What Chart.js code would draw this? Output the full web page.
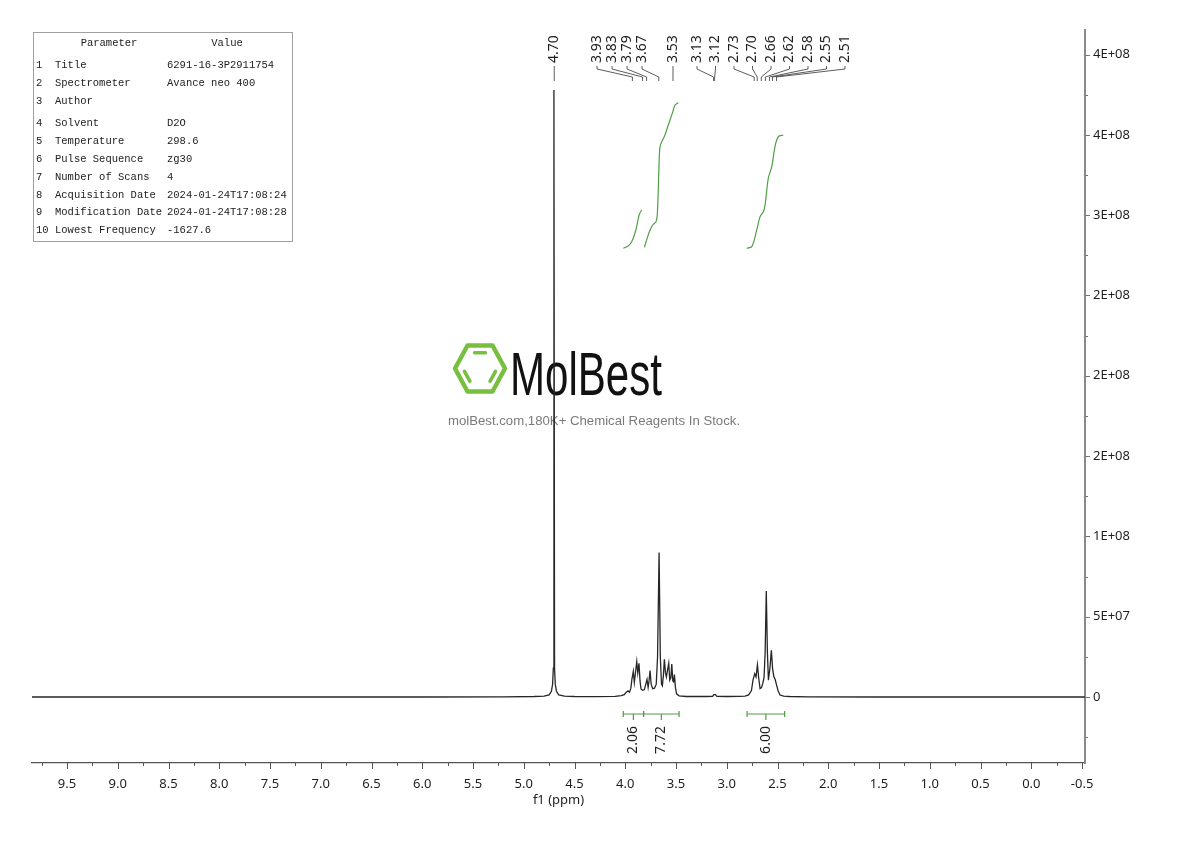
<!DOCTYPE html>
<html>
<head>
<meta charset="utf-8">
<title>1H NMR 6291-16-3</title>
<script src="https://cdn.jsdelivr.net/npm/chart.js@4.4.1/dist/chart.umd.min.js"></script>
<style>
  html, body { margin: 0; padding: 0; background: #fff; }
  #wrap { width: 1190px; height: 841px; }
</style>
</head>
<body>
<div id="wrap"><canvas id="chart" width="1190" height="841"></canvas></div>
<script>
'use strict'

/* global Chart */

// spectrum trace (ppm / intensity)
const spectrumPpm = [
  9.845, 6.0, 5.2, 4.9, 4.8, 4.75, 4.728, 4.716, 4.709, 4.703, 4.697, 4.69, 4.678, 4.656, 4.6, 4.5, 4.3,
  4.1, 4.04, 4.01, 3.993, 3.973, 3.958, 3.945, 3.935, 3.921, 3.911, 3.898, 3.887, 3.877, 3.865, 3.855,
  3.845, 3.83, 3.812, 3.798, 3.786, 3.775, 3.766, 3.756, 3.745, 3.73, 3.712, 3.695, 3.682, 3.667, 3.655,
  3.643, 3.635, 3.625, 3.615, 3.604, 3.595, 3.583, 3.572, 3.562, 3.551, 3.542, 3.532, 3.524, 3.516,
  3.506, 3.495, 3.47, 3.4, 3.2, 3.14, 3.128, 3.112, 3.098, 3.0, 2.88, 2.82, 2.785, 2.757, 2.742, 2.725,
  2.712, 2.698, 2.686, 2.672, 2.658, 2.646, 2.633, 2.622, 2.611, 2.6, 2.59, 2.575, 2.561, 2.548, 2.536,
  2.524, 2.51, 2.493, 2.475, 2.44, 2.38, 2.2, 1.5, -0.53
]
const spectrumIntensity = [
  0, 0, 0.1e6, 0.3e6, 0.6e6, 1.3e6, 3.5e6, 8e6, 1.8e7, 3.78e8, 1.8e7, 8e6, 3.5e6, 1.3e6, 0.6e6, 0.3e6, 0.2e6,
  0.4e6, 0.8e6, 1.5e6, 2.8e6, 3.8e6, 3.0e6, 5.5e6, 1.1e7, 1.6e7, 9e6, 1.6e7, 2.2e7, 1.5e7, 2.1e7, 1.0e7,
  5e6, 4.2e6, 4.6e6, 8e6, 1.1e7, 6e6, 1.0e7, 1.65e7, 8e6, 5.2e6, 5.5e6, 8e6, 2.5e7, 9.0e7, 2.5e7,
  8e6, 7e6, 1.3e7, 2.35e7, 1.5e7, 1.25e7, 1.7e7, 2.1e7, 1.05e7, 1.2e7, 2.05e7, 1.0e7, 9.5e6, 1.4e7,
  6e6, 2e6, 0.7e6, 0.3e6, 0.3e6, 0.4e6, 1.5e6, 1.5e6, 0.4e6, 0.3e6, 0.4e6, 0.6e6, 1.3e6, 4e6, 1.05e7, 1.45e7,
  1.25e7, 2.0e7, 1.2e7, 5.2e6, 5.8e6, 8.3e6, 1.2e7, 2.8e7, 6.6e7, 2.8e7, 1.05e7, 1.8e7, 2.9e7, 1.7e7, 1.25e7,
  1.1e7, 7.5e6, 3.5e6, 1.2e6, 0.5e6, 0.3e6, 0.1e6, 0, 0
]

// integral curves (drawn on the intensity axis)
const integralAPpm = [4.019, 3.973, 3.937, 3.904, 3.881, 3.862, 3.838]
const integralAValue = [2.794e8, 2.808e8, 2.835e8, 2.889e8, 2.951e8, 3.004e8, 3.032e8]
const integralBPpm = [3.812, 3.789, 3.763, 3.730, 3.697, 3.684, 3.670, 3.658, 3.631, 3.608, 3.582, 3.559, 3.532, 3.510, 3.477]
const integralBValue = [2.800e8, 2.846e8, 2.897e8, 2.939e8, 2.960e8, 3.012e8, 3.261e8, 3.427e8, 3.469e8, 3.501e8, 3.551e8, 3.593e8, 3.644e8, 3.686e8, 3.700e8]
const integralCPpm = [2.804, 2.754, 2.705, 2.672, 2.640, 2.623, 2.591, 2.557, 2.525, 2.492, 2.443]
const integralCValue = [2.794e8, 2.804e8, 2.908e8, 2.991e8, 3.022e8, 3.063e8, 3.230e8, 3.302e8, 3.427e8, 3.489e8, 3.499e8]

// integral ranges and their values
const integralFrom = [4.02, 3.82, 2.80]
const integralTo = [3.82, 3.47, 2.43]
const integralLabels = ['2.06', '7.72', '6.00']

// picked peaks
const peakPpm = [4.70, 3.93, 3.83, 3.79, 3.67, 3.53, 3.13, 3.12, 2.73, 2.70, 2.66, 2.62, 2.58, 2.55, 2.51]
const peakLabels = ['4.70', '3.93', '3.83', '3.79', '3.67', '3.53', '3.13', '3.12', '2.73', '2.70', '2.66', '2.62', '2.58', '2.55', '2.51']

// axes
const xTickValues = [9.5, 9.0, 8.5, 8.0, 7.5, 7.0, 6.5, 6.0, 5.5, 5.0, 4.5, 4.0, 3.5, 3.0, 2.5, 2.0, 1.5, 1.0, 0.5, 0.0, -0.5]
const xTickLabels = ['9.5', '9.0', '8.5', '8.0', '7.5', '7.0', '6.5', '6.0', '5.5', '5.0', '4.5', '4.0', '3.5', '3.0', '2.5', '2.0', '1.5', '1.0', '0.5', '0.0', '-0.5']
const yTickValues = [0, 5e7, 1e8, 1.5e8, 2e8, 2.5e8, 3e8, 3.5e8, 4e8]
const yTickLabels = ['0', '5E+07', '1E+08', '2E+08', '2E+08', '2E+08', '3E+08', '4E+08', '4E+08']

// acquisition parameters
const paramNames = ['Title', 'Spectrometer', 'Author', 'Solvent', 'Temperature', 'Pulse Sequence', 'Number of Scans', 'Acquisition Date', 'Modification Date', 'Lowest Frequency']
const paramValues = ['6291-16-3P2911754', 'Avance neo 400', '', 'D2O', '298.6', 'zg30', '4', '2024-01-24T17:08:24', '2024-01-24T17:08:28', '-1627.6']

const GREEN = '#4f9e45'
const INK = '#1e1e1e'
const SANS = '"Noto Sans", "Open Sans", sans-serif'
const LABEL_FONT = '14px ' + SANS

function zip (xs, ys) {
  return xs.map((x, i) => ({ x: x, y: ys[i] }))
}

function drawTable (ctx) {
  ctx.save()
  ctx.strokeStyle = '#a0a0a0'
  ctx.lineWidth = 1
  ctx.strokeRect(33.5, 32.5, 259, 209)
  ctx.fillStyle = '#222'
  ctx.font = '10.5px "Liberation Mono", monospace'
  ctx.textBaseline = 'middle'
  ctx.textAlign = 'center'
  ctx.fillText('Parameter', 109, 43)
  ctx.fillText('Value', 227, 43)
  ctx.textAlign = 'left'
  const rowY = [65, 83, 101, 123, 141, 159, 177, 195, 212, 230]
  paramNames.forEach((name, i) => {
    ctx.fillText(String(i + 1), 36, rowY[i])
    ctx.fillText(name, 55, rowY[i])
    ctx.fillText(paramValues[i], 167, rowY[i])
  })
  ctx.restore()
}

function drawWatermark (ctx) {
  ctx.save()
  // benzene ring
  const cx = 480
  const cy = 368.5
  const r = 25
  const h = 23
  const pts = [[cx - r, cy], [cx - r / 2, cy - h], [cx + r / 2, cy - h], [cx + r, cy], [cx + r / 2, cy + h], [cx - r / 2, cy + h]]
  ctx.strokeStyle = '#78bf40'
  ctx.lineWidth = 4.5
  ctx.lineJoin = 'round'
  ctx.lineCap = 'round'
  ctx.beginPath()
  pts.forEach((p, i) => { if (i === 0) ctx.moveTo(p[0], p[1]); else ctx.lineTo(p[0], p[1]) })
  ctx.closePath()
  ctx.stroke()
  ctx.lineWidth = 3.5
  const inner = [[1, 2], [3, 4], [5, 0]]
  inner.forEach(([a, b]) => {
    const k = 0.68
    const ax = cx + (pts[a][0] - cx) * k
    const ay = cy + (pts[a][1] - cy) * k
    const bx = cx + (pts[b][0] - cx) * k
    const by = cy + (pts[b][1] - cy) * k
    const t = 0.18
    ctx.beginPath()
    ctx.moveTo(ax + (bx - ax) * t, ay + (by - ay) * t)
    ctx.lineTo(bx - (bx - ax) * t, by - (by - ay) * t)
    ctx.stroke()
  })
  // brand name, squeezed to the logo width
  ctx.fillStyle = '#111'
  ctx.font = '62px "Liberation Sans Narrow", "Liberation Sans", sans-serif'
  ctx.textBaseline = 'alphabetic'
  ctx.textAlign = 'left'
  const w = ctx.measureText('MolBest').width
  ctx.translate(510, 395)
  ctx.scale(152 / w, 1)
  ctx.fillText('MolBest', 0, 0)
  ctx.restore()

  ctx.save()
  ctx.fillStyle = '#7a7a7a'
  ctx.font = '13.2px "Liberation Sans", Arial, sans-serif'
  ctx.textAlign = 'center'
  ctx.textBaseline = 'middle'
  ctx.fillText('molBest.com,180K+ Chemical Reagents In Stock.', 594, 421)
  ctx.restore()
}

function drawAxisTicks (chart) {
  const { ctx, chartArea, scales } = chart
  const xs = scales.x
  const ys = scales.y
  ctx.save()
  ctx.strokeStyle = '#555'
  ctx.lineWidth = 1
  // x: majors every 0.5, minors in between
  const xStep = xTickValues[0] - xTickValues[1]
  for (let v = xTickValues[0] + xStep / 2; v >= xs.min; v -= xStep / 2) {
    const px = Math.round(xs.getPixelForValue(v)) + 0.5
    const major = xTickValues.some(t => Math.abs(t - v) < 1e-6)
    ctx.beginPath()
    ctx.moveTo(px, chartArea.bottom)
    ctx.lineTo(px, chartArea.bottom + (major ? 6 : 3))
    ctx.stroke()
  }
  // y: majors at labelled values, minors in between
  ctx.strokeStyle = '#777'
  const yStep = yTickValues[1] - yTickValues[0]
  for (let v = yTickValues[0] - yStep / 2; v <= ys.max; v += yStep / 2) {
    if (v < ys.min) continue
    const py = Math.round(ys.getPixelForValue(v)) + 0.5
    const major = yTickValues.some(t => Math.abs(t - v) < 1)
    ctx.beginPath()
    ctx.moveTo(chartArea.right, py)
    ctx.lineTo(chartArea.right + (major ? 5 : 3), py)
    ctx.stroke()
  }
  ctx.restore()
}

function drawPeakLabels (chart, slots) {
  const { ctx, scales } = chart
  ctx.save()
  ctx.font = LABEL_FONT
  ctx.fillStyle = INK
  ctx.strokeStyle = '#333'
  ctx.lineWidth = 0.8
  peakPpm.forEach((ppm, i) => {
    const peakX = scales.x.getPixelForValue(ppm)
    const labelX = slots[i] === null ? peakX : slots[i]
    ctx.beginPath()
    ctx.moveTo(labelX, 66)
    ctx.lineTo(labelX, 69)
    ctx.lineTo(peakX, 77)
    ctx.lineTo(peakX, 81)
    ctx.stroke()
    ctx.save()
    ctx.translate(labelX, 63)
    ctx.rotate(-Math.PI / 2)
    ctx.textAlign = 'left'
    ctx.textBaseline = 'middle'
    ctx.fillText(peakLabels[i], 0, 0)
    ctx.restore()
  })
  ctx.restore()
}

function drawIntegralMarks (chart) {
  const { ctx, scales } = chart
  const y0 = scales.y.getPixelForValue(0) + 17
  ctx.save()
  ctx.strokeStyle = GREEN
  ctx.lineWidth = 1.2
  ctx.font = LABEL_FONT
  ctx.fillStyle = INK
  integralFrom.forEach((from, i) => {
    const x1 = scales.x.getPixelForValue(from)
    const x2 = scales.x.getPixelForValue(integralTo[i])
    const xm = (x1 + x2) / 2
    ctx.beginPath()
    ctx.moveTo(x1, y0)
    ctx.lineTo(x2, y0)
    ctx.moveTo(x1, y0 - 3)
    ctx.lineTo(x1, y0 + 3)
    ctx.moveTo(x2, y0 - 3)
    ctx.lineTo(x2, y0 + 3)
    ctx.moveTo(xm, y0)
    ctx.lineTo(xm, y0 + 6)
    ctx.stroke()
    ctx.save()
    ctx.translate(xm, y0 + 26)
    ctx.rotate(-Math.PI / 2)
    ctx.textAlign = 'center'
    ctx.textBaseline = 'middle'
    ctx.fillText(integralLabels[i], 0, 0)
    ctx.restore()
  })
  ctx.restore()
}

const decorPlugin = {
  id: 'decor',
  beforeDatasetsDraw (chart) {
    drawTable(chart.ctx)
    drawWatermark(chart.ctx)
  },
  afterDatasetsDraw (chart, args, opts) {
    drawAxisTicks(chart)
    drawPeakLabels(chart, opts.slots)
    drawIntegralMarks(chart)
  }
}

const integralStyle = {
  type: 'line',
  borderColor: GREEN,
  borderWidth: 1.2,
  pointRadius: 0,
  tension: 0.35,
  fill: false
}

const chart = new Chart(document.getElementById('chart'), {
  type: 'line',
  data: {
    datasets: [{
      label: 'Spectrum',
      data: zip(spectrumPpm, spectrumIntensity),
      borderColor: '#262626',
      borderWidth: 1.3,
      pointRadius: 0,
      tension: 0,
      fill: false
    },
    Object.assign({ label: 'Integral 1', data: zip(integralAPpm, integralAValue) }, integralStyle),
    Object.assign({ label: 'Integral 2', data: zip(integralBPpm, integralBValue) }, integralStyle),
    Object.assign({ label: 'Integral 3', data: zip(integralCPpm, integralCValue) }, integralStyle)]
  },
  options: {
    responsive: false,
    animation: false,
    layout: { padding: { left: 32, top: 30, right: 0, bottom: 0 } },
    plugins: {
      legend: { display: false },
      tooltip: { enabled: false },
      decor: {
        // label positions along the top (null = straight above the peak)
        slots: [null, 597, 612, 627, 642, null, 697, 715.5, 734, 752.5, 771, 789.5, 808, 826.5, 845]
      }
    },
    scales: {
      x: {
        type: 'linear',
        position: 'bottom',
        reverse: true,
        min: -0.529,
        max: 9.845,
        afterFit: (scale) => { scale.height = 78 },
        afterBuildTicks: (scale) => { scale.ticks = xTickValues.map(v => ({ value: v })) },
        grid: { display: false, drawTicks: false },
        border: { display: true, color: '#555', width: 1.2 },
        ticks: {
          autoSkip: false,
          maxRotation: 0,
          padding: 13,
          color: INK,
          font: { family: SANS, size: 13 },
          callback: (value, index) => xTickLabels[index]
        },
        title: {
          display: true,
          text: 'f1 (ppm)',
          color: INK,
          font: { family: SANS, size: 13 },
          padding: { top: 0, bottom: 33 }
        }
      },
      y: {
        type: 'linear',
        position: 'right',
        min: -4.11e7,
        max: 4.153e8,
        afterFit: (scale) => { scale.width = 105 },
        afterBuildTicks: (scale) => { scale.ticks = yTickValues.map(v => ({ value: v })) },
        grid: { display: false, drawTicks: false },
        border: { display: true, color: '#8a8a8a', width: 2 },
        ticks: {
          autoSkip: false,
          padding: 8,
          color: INK,
          font: { family: SANS, size: 13 },
          callback: (value, index) => yTickLabels[index]
        }
      }
    }
  },
  plugins: [decorPlugin]
})
</script>
</body>
</html>
